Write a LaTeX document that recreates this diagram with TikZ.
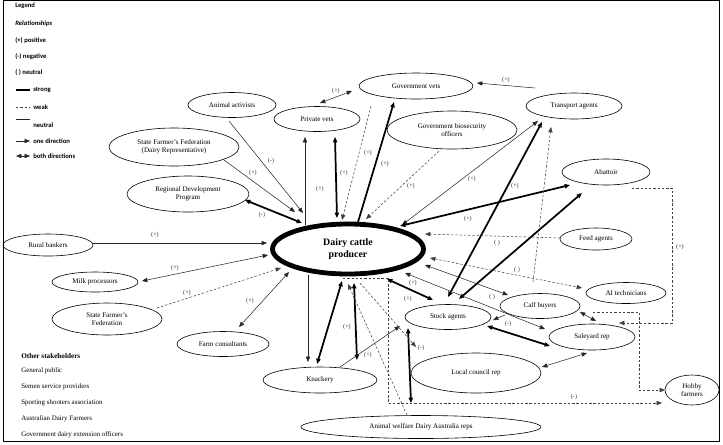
\documentclass[tikz,border=0pt]{standalone}
\usepackage{fontspec}
\setmainfont{Liberation Serif}
\newfontfamily\legfont{Carlito}
\usetikzlibrary{shapes.geometric,arrows.meta,calc}
\begin{document}
\begin{tikzpicture}[x=0.75pt,y=-0.75pt,
  ell/.style 2 args={ellipse,draw,line width=0.45pt,minimum width=#1*0.75pt,minimum height=#2*0.75pt,inner sep=0pt,align=center,font=\fontsize{5.3}{6.3}\selectfont},
  lnthin/.style={line width=0.4pt,draw=black!85},
  lnthick/.style={line width=1.3pt,draw=black},
  lndash/.style={line width=0.4pt,draw=black!75,dash pattern=on 1.8pt off 1.4pt},
  >={Triangle[length=4pt,width=3.2pt]},
  lab/.style={font=\fontsize{4.6}{4.6}\selectfont,inner sep=0.3pt,text=black!85},
  leg/.style={font=\legfont\bfseries\fontsize{5}{5}\selectfont,anchor=west,inner sep=0pt},
  oth/.style={font=\fontsize{5.2}{5.2}\selectfont,anchor=west,inner sep=0pt}]
\useasboundingbox (0,0) rectangle (723,444);
\draw[line width=0.6pt] (3,0.5) rectangle (719,441);

% legend
\node[leg] (lg1) at (15,6) {Legend};
\node[leg,font=\legfont\bfseries\itshape\fontsize{5}{5}\selectfont] (lg2) at (15,24) {Relationships};
\node[leg] (lg3) at (15,41) {(+) positive};
\node[leg] (lg4) at (15,57) {(-) negative};
\node[leg] (lg5) at (15,73) {( ) neutral};
\draw[lnthick,line width=1pt] (16,90) -- (30,90);
\node[leg] (lg6) at (33,90) {strong};
\draw[lndash] (16,107) -- (30,107);
\node[leg] (lg7) at (33,107) {weak};
\draw[lnthin] (16,119) -- (30,119);
\node[leg] (lg8) at (33,125) {neutral};
\draw[lnthin,->] (16,141) -- (30,141);
\node[leg] (lg9) at (33,141) {one direction};
\draw[lnthin,<->] (16,156) -- (30,156);
\node[leg] (lg10) at (33,156) {both directions};

% other stakeholders
\node[oth,font=\bfseries\fontsize{5.4}{5.4}\selectfont] (os0) at (21,356) {Other stakeholders};
\node[oth] (os1) at (21,371) {General public};
\node[oth] (os2) at (21,387) {Semen service providers};
\node[oth] (os3) at (21,403) {Sporting shooters association};
\node[oth] (os4) at (21,419) {Australian Dairy Farmers};
\node[oth] (os5) at (21,435) {Government dairy extension officers};

% nodes
\node[ell={151}{50},line width=3.6pt,font=\bfseries\fontsize{7.4}{9}\selectfont] (dcp) at (348,249) {Dairy cattle\\producer};
\node[ell={114}{26}] (gv) at (416,86) {Government vets};
\node[ell={86}{25}] (pv) at (317,119) {Private vets};
\node[ell={88}{25}] (aa) at (232,105) {Animal activists};
\node[ell={130}{38}] (sffd) at (174,147) {State Farmer's Federation\\(Dairy Representative)};
\node[ell={122}{36}] (rdp) at (188,194) {Regional Development\\Program};
\node[ell={130}{38}] (gbo) at (452,130) {Government biosecurity\\officers};
\node[ell={96}{26}] (ta) at (574,106) {Transport agents};
\node[ell={88}{26}] (ab) at (606,172) {Abattoir};
\node[ell={72}{22}] (fa) at (596,239) {Feed agents};
\node[ell={80}{21}] (ai) at (626,293) {AI technicians};
\node[ell={80}{25}] (cb) at (540,306) {Calf buyers};
\node[ell={86}{26}] (sr) at (592,337) {Saleyard rep};
\node[ell={54}{30}] (hf) at (692,390) {Hobby\\farmers};
\node[ell={86}{25}] (sa) at (448,317) {Stock agents};
\node[ell={130}{40}] (lcr) at (476,373) {Local council rep};
\node[ell={114}{26}] (kn) at (320,380) {Knackery};
\node[ell={240}{23}] (aw) at (421,427) {Animal welfare Dairy Australia reps};
\node[ell={90}{22}] (rb) at (48,245) {Rural bankers};
\node[ell={86}{20}] (mp) at (95,282) {Milk processors};
\node[ell={110}{32}] (sff) at (107,319) {State Farmer's\\Federation};
\node[ell={92}{25}] (fc) at (223,344) {Farm consultants};

% connectors
\draw[lnthin,->] ($(rb)+(44,-2)$) -- ($(dcp)+(-81,-6)$);
\draw[lnthin,<->] ($(mp)+(47,-1)$) -- ($(dcp)+(-80,6)$);
\draw[lndash,->] ($(sff)+(50,-11)$) -- ($(dcp)+(-67,19)$);
\draw[lnthin,<->] ($(fc)+(16,-17)$) -- ($(dcp)+(-59,23)$);
\draw[lnthick,<->] ($(rdp)+(57,6)$) -- ($(dcp)+(-46,-26)$);
\draw[lnthin,->] ($(sffd)+(50,13)$) -- ($(dcp)+(-53,-37)$);
\draw[lnthin,->] ($(aa)+(-3,16)$) -- ($(dcp)+(-45,-36)$);
\draw[lnthin,->] ($(dcp)+(-43,-24)$) -- ($(pv)+(-12,18)$);
\draw[lnthick,<->] ($(pv)+(18,18)$) -- ($(dcp)+(-11,-31)$);
\draw[lnthin,<->] ($(pv)+(3,-16)$) -- ($(gv)+(-64,5)$);
\draw[lndash,->] ($(gv)+(-45,20)$) -- ($(dcp)+(-6,-29)$);
\draw[lnthick,->] ($(dcp)+(10,-27)$) -- ($(gv)+(-22,16)$);
\draw[lndash,->] ($(gbo)+(-13,21)$) -- ($(dcp)+(18,-30)$);
\draw[lnthin,->] ($(ta)+(-39,-18)$) -- ($(gv)+(61,-3)$);
\draw[lnthin,<->] ($(dcp)+(54,-24)$) -- ($(ta)+(-36,15)$);
\draw[lnthick,<->] ($(sa)+(0,-20)$) -- ($(ta)+(-32,16)$);
\draw[lnthick,<->] ($(dcp)+(52,-23)$) -- ($(ab)+(-36,13)$);
\draw[lnthick,<->] ($(sa)+(11,-18)$) -- ($(ab)+(-24,21)$);
\draw[lndash,->] ($(cb)+(-7,-24)$) -- ($(ta)+(-23,21)$);
\draw[lndash,->] ($(fa)+(-36,-1)$) -- ($(dcp)+(77,-15)$);
\draw[lndash,<->] ($(dcp)+(82,9)$) -- ($(ai)+(-44,-5)$);
\draw[lnthin,<->] ($(dcp)+(77,16)$) -- ($(cb)+(-32,-11)$);
\draw[lnthin,<->] ($(dcp)+(57,24)$) -- ($(sr)+(-47,-8)$);
\draw[lnthick,<->] ($(dcp)+(39,30)$) -- ($(sa)+(-15,-17)$);
\draw[lnthin,->] ($(cb)+(-35,9)$) -- ($(sa)+(45,3)$);
\draw[lnthick,<->] ($(sa)+(39,9)$) -- ($(sr)+(-42,9)$);
\draw[lnthin,<->] ($(cb)+(40,6)$) -- ($(sr)+(4,-16)$);
\draw[lnthin,<->] ($(lcr)+(66,-6)$) -- ($(sr)+(-5,16)$);
\draw[lndash,->] ($(cb)+(53,6)$) -| ($(hf)+(-53,0)$) -- ($(hf)+(-27,0)$);
\draw[lndash,->] ($(ab)+(26,16)$) -| ($(sr)+(80,-14)$) -- ($(sr)+(27,-14)$);
\draw[lndash,->] ($(dcp)+(-5,29)$) -| ($(hf)+(-304,13)$) -- ($(hf)+(-30,13)$);
\draw[lnthick,<->] ($(dcp)+(-6,32)$) -- ($(kn)+(-3,-16)$);
\draw[lnthick,<->] ($(dcp)+(6,34)$) -- ($(kn)+(37,-20)$);
\draw[lnthin,->] ($(dcp)+(-40,26)$) -- ($(kn)+(-12,-18)$);
\draw[lnthin,->] ($(kn)+(20,-13)$) -- ($(sa)+(-48,9)$);
\draw[lnthick,<->] ($(sa)+(-40,11)$) -- ($(aw)+(-10,-24)$);
\draw[lndash,->] ($(aw)+(-14,-12)$) -- ($(dcp)+(0,35)$);
\draw[lndash,->] ($(dcp)+(12,34)$) -- ($(lcr)+(-60,-26)$);

% labels
\node[lab] (l1) at (155,235) {(+)};
\node[lab] (l2) at (175,268) {(+)};
\node[lab] (l3) at (187,293) {(+)};
\node[lab] (l4) at (250,301) {(+)};
\node[lab] (l5) at (262,215) {(-)};
\node[lab] (l6) at (253,173) {(+)};
\node[lab] (l7) at (271,161) {(-)};
\node[lab] (l8) at (320,189) {(+)};
\node[lab] (l9) at (344,173) {(+)};
\node[lab] (l10) at (336,91) {(+)};
\node[lab] (l11) at (368,153) {(+)};
\node[lab] (l12) at (385,164) {(+)};
\node[lab] (l13) at (411,186) {(+)};
\node[lab] (l14) at (506,80) {(+)};
\node[lab] (l15) at (472,179) {(+)};
\node[lab] (l16) at (515,186) {(+)};
\node[lab] (l17) at (468,219) {(+)};
\node[lab] (l18) at (497,243) {( )};
\node[lab] (l19) at (517,270) {( )};
\node[lab] (l20) at (492,297) {( )};
\node[lab] (l21) at (413,283) {(+)};
\node[lab] (l22) at (408,299) {(+)};
\node[lab] (l23) at (508,324) {(-)};
\node[lab] (l24) at (680,247) {(+)};
\node[lab] (l25) at (574,397) {(-)};
\node[lab] (l26) at (347,327) {(+)};
\node[lab] (l27) at (368,355) {(+)};
\node[lab] (l28) at (421,348) {(-)};
\end{tikzpicture}
\end{document}
